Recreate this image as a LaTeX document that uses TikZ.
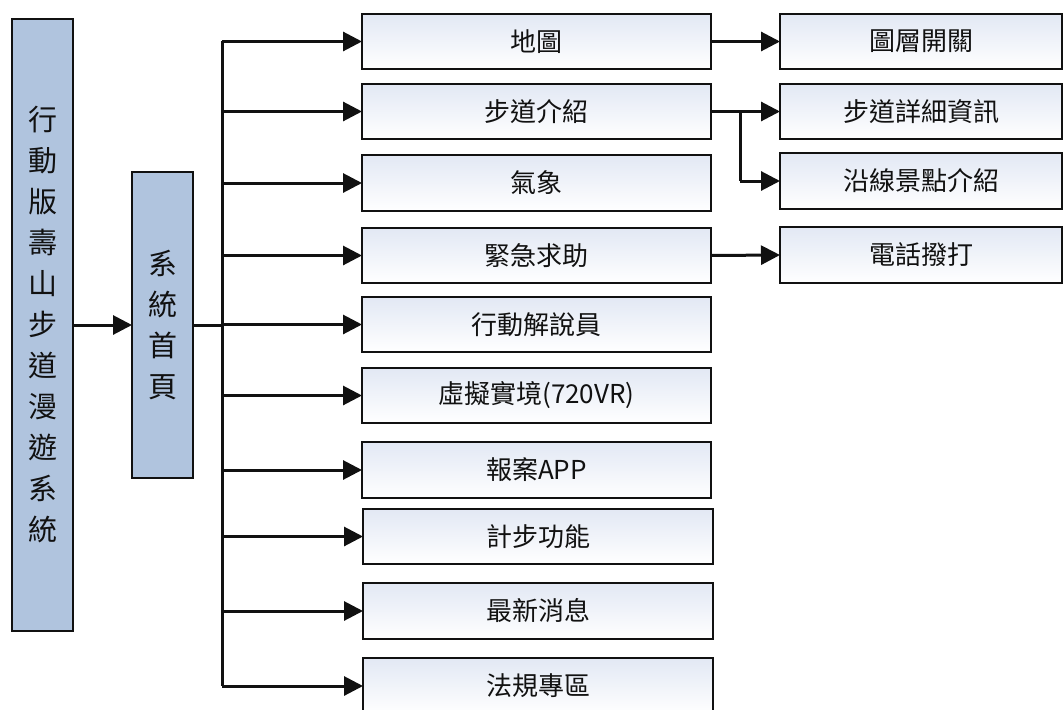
\documentclass[tikz,border=0pt]{standalone}
\usepackage{fontspec}
\setmainfont{Noto Sans CJK TC}
\usetikzlibrary{arrows.meta,positioning}
\definecolor{sideblue}{RGB}{176,196,222}
\definecolor{topblue}{RGB}{226,232,244}
\definecolor{ink}{RGB}{17,17,17}
\tikzset{
  sidebox/.style={draw=ink, line width=2.6pt, fill=sideblue, rectangle, inner sep=0pt, outer sep=0pt,
    anchor=north west, align=center, font={\fontsize{29}{41}\selectfont}, text=ink},
  menubox/.style={draw=ink, line width=2.6pt, rectangle, inner sep=0pt, outer sep=0pt,
    top color=topblue, bottom color=white, anchor=north west,
    font={\fontsize{26}{30}\selectfont}, text=ink},
  conn/.style={draw=ink, line width=3pt},
  arr/.style={conn, -{Triangle[length=19pt,width=19pt]}},
}
\begin{document}
\begin{tikzpicture}[x=1pt,y=-1pt]
\useasboundingbox (0,0) rectangle (1064,709);
\clip (0,0) rectangle (1064,709);
% left side boxes
\node[sidebox, minimum width=61pt, minimum height=612pt] (A) at (12,19) {行\\動\\版\\壽\\山\\步\\道\\漫\\遊\\系\\統};
\node[sidebox, minimum width=61pt, minimum height=306pt] (B) at (132,172) {系\\統\\首\\頁};
% middle column
\node[menubox, minimum width=349pt, minimum height=55pt] (m1) at (362,14) {地圖};
\node[menubox, minimum width=349pt, minimum height=55pt] (m2) at (362,84) {步道介紹};
\node[menubox, minimum width=349pt, minimum height=56pt] (m3) at (362,155) {氣象};
\node[menubox, minimum width=349pt, minimum height=55pt] (m4) at (362,228) {緊急求助};
\node[menubox, minimum width=349pt, minimum height=55pt] (m5) at (362,297) {行動解說員};
\node[menubox, minimum width=349pt, minimum height=55pt] (m6) at (362,368) {虛擬實境(720VR)};
\node[menubox, minimum width=349pt, minimum height=56pt] (m7) at (362,442) {報案APP};
\node[menubox, minimum width=350pt, minimum height=55pt] (m8) at (363,509) {計步功能};
\node[menubox, minimum width=350pt, minimum height=56pt] (m9) at (363,583) {最新消息};
\node[menubox, minimum width=350pt, minimum height=56pt] (m10) at (363,658) {法規專區};
% right column
\node[menubox, minimum width=282pt, minimum height=55pt] (r1) at (780,14) {圖層開關};
\node[menubox, minimum width=282pt, minimum height=55pt] (r2) at (780,84) {步道詳細資訊};
\node[menubox, minimum width=282pt, minimum height=56pt] (r3) at (780,153) {沿線景點介紹};
\node[menubox, minimum width=282pt, minimum height=56pt] (r4) at (780,227) {電話撥打};
% connectors
\coordinate (trunk) at (222,0);
\coordinate (split) at (740,0);
\draw[arr] (A.east) -- (B.west);
\draw[conn] (B.east) -- (trunk |- B.east);
\draw[conn] (trunk |- m1.west) -- (trunk |- m10.west);
\foreach \m in {m1,m2,m3,m4,m5,m6,m7,m8,m9,m10}
  \draw[arr] (trunk |- \m.west) -- (\m.west);
\draw[arr] (m1.east) -- (r1.west);
\draw[arr] (m2.east) -- (r2.west);
\draw[conn] (split |- m2.east) -- (split |- r3.west);
\draw[arr] (split |- r3.west) -- (r3.west);
\draw[arr] (m4.east) -- (r4.west);
\end{tikzpicture}
\end{document}
